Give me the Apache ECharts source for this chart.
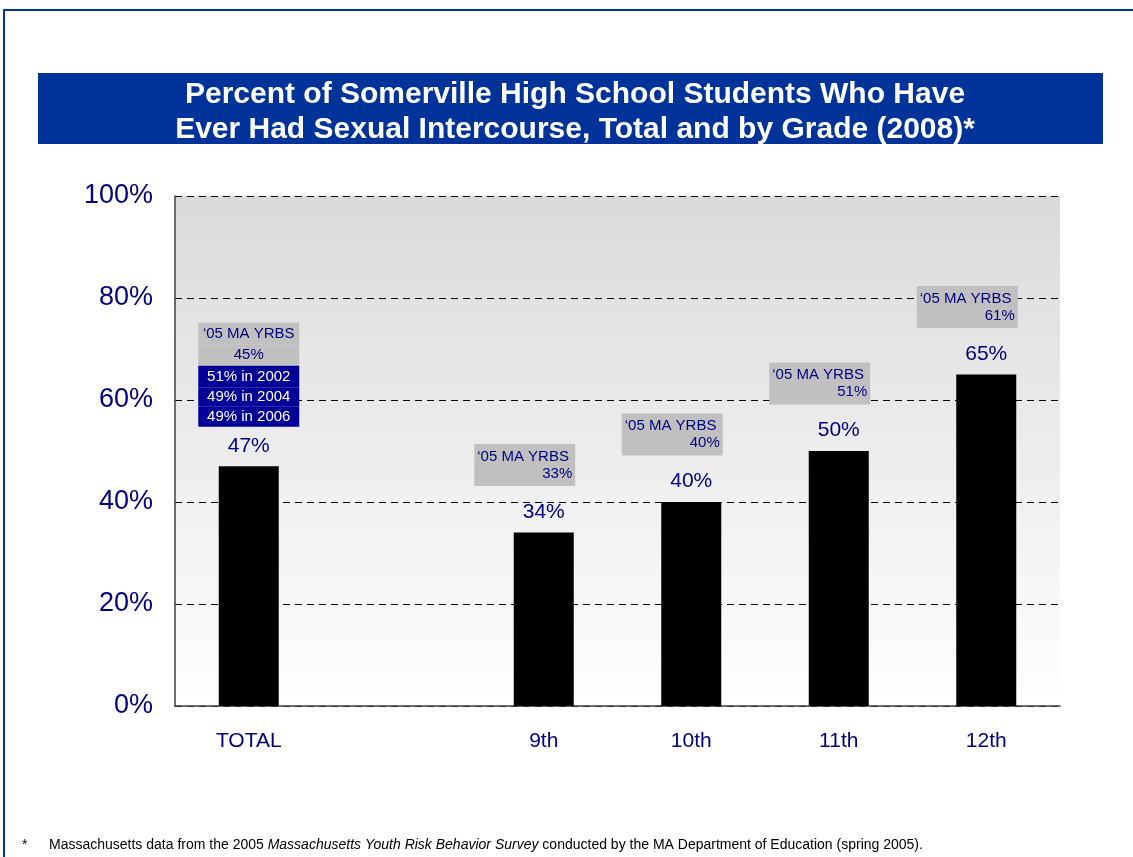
<!DOCTYPE html>
<html><head><meta charset="utf-8">
<script src="https://cdn.jsdelivr.net/npm/echarts@6/dist/echarts.min.js"></script>
<style>html,body{margin:0;padding:0;background:#fff}#c{width:1133px;height:857px}</style>
</head><body><div id="c"></div>
<script>
const categories = ['TOTAL', '', '9th', '10th', '11th', '12th'];
const values2008 = [47, null, 34, 40, 50, 65];
const maYrbs2005 = [45, null, 33, 40, 51, 61];
const totalHistory = ['51% in 2002', '49% in 2004', '49% in 2006'];
const yMin = 0, yMax = 100, yStep = 20;
const titleLines = ['Percent of Somerville High School Students Who Have', 'Ever Had Sexual Intercourse, Total and by Grade (2008)*'];
const maLabel = '\u201805 MA YRBS';

const FONT = 'Arial, "Liberation Sans", sans-serif';
const NAVY = '#000080';

const annData = values2008.map((v, i) => {
  if (v == null) return null;
  if (i === 0) {
    return { value: v, label: {
      distance: 39, offset: [0, 0],
      formatter: p => '{g1|' + maLabel + '}\n{g2|' + maYrbs2005[p.dataIndex] + '%}\n{n1|' + totalHistory[0] + '}\n{n2|' + totalHistory[1] + '}\n{n3|' + totalHistory[2] + '}',
      rich: {
        g1: { width: 101, height: 22, lineHeight: 22, backgroundColor: '#c0c0c0', align: 'center', color: NAVY, fontSize: 15, fontFamily: FONT },
        g2: { width: 101, height: 21, lineHeight: 21, backgroundColor: '#c0c0c0', align: 'center', color: NAVY, fontSize: 15, fontFamily: FONT },
        n1: { width: 101, height: 22, lineHeight: 22, backgroundColor: '#000099', align: 'center', color: '#fff', fontSize: 15, fontFamily: FONT },
        n2: { width: 101, height: 19, lineHeight: 19, backgroundColor: '#000099', align: 'center', color: '#fff', fontSize: 15, fontFamily: FONT },
        n3: { width: 101, height: 20, lineHeight: 20, backgroundColor: '#000099', align: 'center', color: '#fff', fontSize: 15, fontFamily: FONT }
      }
    }};
  }
  return { value: v, label: {
    distance: 46, offset: [-19, 0],
    backgroundColor: '#c0c0c0', padding: [4, 3, 4, 3],
    formatter: p => '{a|' + maLabel + '}\n{b|' + maYrbs2005[p.dataIndex] + '%}',
    rich: {
      a: { width: 95, align: 'left', lineHeight: 17, fontSize: 15, color: NAVY, fontFamily: FONT },
      b: { width: 95, align: 'right', lineHeight: 17, fontSize: 15, color: NAVY, fontFamily: FONT }
    }
  }};
});

const chart = echarts.init(document.getElementById('c'), null, { renderer: 'canvas' });
chart.setOption({
  animation: false,
  backgroundColor: '#fff',
  title: {
    text: titleLines.join('\n'),
    left: 570, top: 72, textAlign: 'center',
    textStyle: { color: '#fff', fontSize: 30, fontWeight: 'bold', lineHeight: 35, fontFamily: FONT }
  },
  graphic: [
    { type: 'rect', z: -10, shape: { x: 4, y: 10, width: 1200, height: 900 }, style: { fill: 'none', stroke: '#003399', lineWidth: 2 } },
    { type: 'rect', z: -5, shape: { x: 38, y: 73, width: 1065, height: 71 }, style: { fill: '#003399' } },
    { type: 'text', left: 22, top: 838, style: { text: '*', fontSize: 14, fill: '#000', fontFamily: FONT } },
    { type: 'text', left: 49, top: 838, style: {
      text: '{n|Massachusetts data from the 2005 }{i|Massachusetts Youth Risk Behavior Survey}{n| conducted by the MA Department of Education (spring 2005).}',
      rich: { n: { fontSize: 14, fill: '#000', fontFamily: FONT }, i: { fontSize: 14, fill: '#000', fontStyle: 'italic', fontFamily: FONT } }
    } }
  ],
  grid: {
    left: 175, right: 73, top: 196, bottom: 151, show: true, borderWidth: 0,
    backgroundColor: { type: 'linear', x: 0, y: 0, x2: 0, y2: 1, colorStops: [{ offset: 0, color: '#dadada' }, { offset: 1, color: '#ffffff' }] }
  },
  xAxis: {
    type: 'category', data: categories,
    axisLine: { show: true, lineStyle: { color: '#404040', width: 1.5 } },
    axisTick: { show: false },
    axisLabel: { color: NAVY, fontSize: 21, fontFamily: FONT, margin: 25 },
    splitLine: { show: false }
  },
  yAxis: {
    type: 'value', min: yMin, max: yMax, interval: yStep,
    axisLine: { show: true, lineStyle: { color: '#404040', width: 1.5 } },
    axisTick: { show: false },
    axisLabel: { color: NAVY, fontSize: 27, fontFamily: FONT, margin: 22, formatter: '{value}%' },
    splitLine: { show: true, lineStyle: { color: '#000', type: [7, 5], width: 1 } }
  },
  series: [
    {
      type: 'bar', data: values2008, barWidth: 60,
      itemStyle: { color: '#000' },
      label: { show: true, position: 'top', distance: 10, color: NAVY, fontSize: 21, fontFamily: FONT, formatter: '{c}%' }
    },
    {
      type: 'scatter', data: annData, symbolSize: 1, silent: true,
      itemStyle: { color: 'rgba(0,0,0,0)', opacity: 1 },
      label: { show: true, position: 'top' },
      z: 5
    }
  ]
});
</script></body></html>
